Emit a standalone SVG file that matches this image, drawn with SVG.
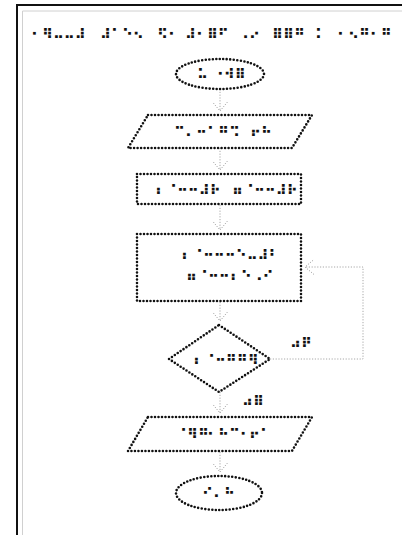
<svg xmlns="http://www.w3.org/2000/svg" width="402" height="535" viewBox="0 0 402 535">
<style>
.shape{fill:none;stroke:#111;stroke-width:2.6;stroke-linecap:round;stroke-dasharray:0 3.5}
.conn{fill:none;stroke:#a8a8a8;stroke-width:1;stroke-dasharray:1.2 1.6}
.br{font-family:"DejaVu Sans",sans-serif;font-size:14px;font-weight:bold;fill:#111}
</style>
<defs>
<marker id="arr" viewBox="-11 -9 13 18" refX="0" refY="0" markerWidth="13" markerHeight="18" markerUnits="userSpaceOnUse" orient="auto">
<path d="M-9,-7.5 L0,0 L-9,7.5" fill="none" stroke="#a8a8a8" stroke-width="1" stroke-dasharray="1.2 1.4"/>
</marker>
</defs>
<rect width="402" height="535" fill="#fff"/>
<g id="frame">
<path d="M17,535 V5 H402" fill="none" stroke="#111" stroke-width="2"/>
<path d="M22.5,535 V11 H402" fill="none" stroke="#d0d0d0" stroke-width="1"/>
</g>
<g id="title" class="br">
<text y="39"><tspan x="31">⠂⠻⠤⠤⠼</tspan><tspan x="100">⠼⠁⠑⠢</tspan><tspan x="157">⠫⠂</tspan><tspan x="185">⠼⠂⠿⠋</tspan><tspan x="238">⠠⠔</tspan><tspan x="272">⠿⠿⠛</tspan><tspan x="315">⠅</tspan><tspan x="337">⠂⠢⠛⠂⠛</tspan></text>
</g>
<g id="connectors">
<path class="conn" d="M220,89 V111" marker-end="url(#arr)"/>
<path class="conn" d="M220,148 V170" marker-end="url(#arr)"/>
<path class="conn" d="M220,205 V230" marker-end="url(#arr)"/>
<path class="conn" d="M220,302 V321" marker-end="url(#arr)"/>
<path class="conn" d="M270,359 H363 V267 H305" marker-end="url(#arr)"/>
<path class="conn" d="M220,392 V413" marker-end="url(#arr)"/>
<path class="conn" d="M220,452 V472" marker-end="url(#arr)"/>
<text class="br" x="290" y="348">⠴⠟</text>
<text class="br" x="242" y="406">⠴⠿</text>
</g>
<g id="start">
<ellipse class="shape" cx="220" cy="74" rx="44" ry="15"/>
<text class="br" x="197" y="79">⠥ ⠐⠺⠿</text>
</g>
<g id="input">
<path class="shape" d="M148,115 H312 L292,148 H128 Z"/>
<text class="br" y="137"><tspan x="174">⠉⠄⠒</tspan><tspan x="207">⠁⠛⠩</tspan><tspan x="250">⠖⠓</tspan></text>
</g>
<g id="init">
<rect class="shape" x="137" y="174" width="164" height="30"/>
<text class="br" y="195"><tspan x="155">⠆⠈⠒⠒⠼⠗</tspan><tspan x="232">⠶⠈⠒⠒⠼⠗</tspan></text>
</g>
<g id="process">
<rect class="shape" x="137" y="234" width="164" height="67"/>
<text class="br" y="260"><tspan x="181">⠆⠈⠒⠒⠒⠑⠤⠼⠃</tspan></text>
<text class="br" y="281"><tspan x="186">⠶⠈⠒⠒⠆⠑⠠⠊</tspan></text>
</g>
<g id="decision">
<path class="shape" d="M219,325 L270,359 L219,392 L169,359 Z"/>
<text class="br" x="193" y="365">⠆⠈⠒⠛⠛⠻</text>
</g>
<g id="output">
<path class="shape" d="M148,417 H312 L292,451 H128 Z"/>
<text class="br" y="439"><tspan x="176">⠈⠻⠛</tspan><tspan x="207">⠂⠓⠉⠂</tspan><tspan x="249">⠖⠁</tspan></text>
</g>
<g id="end">
<ellipse class="shape" cx="219" cy="493" rx="43" ry="17"/>
<text class="br" x="202" y="498">⠊⠄⠓</text>
</g>
</svg>
